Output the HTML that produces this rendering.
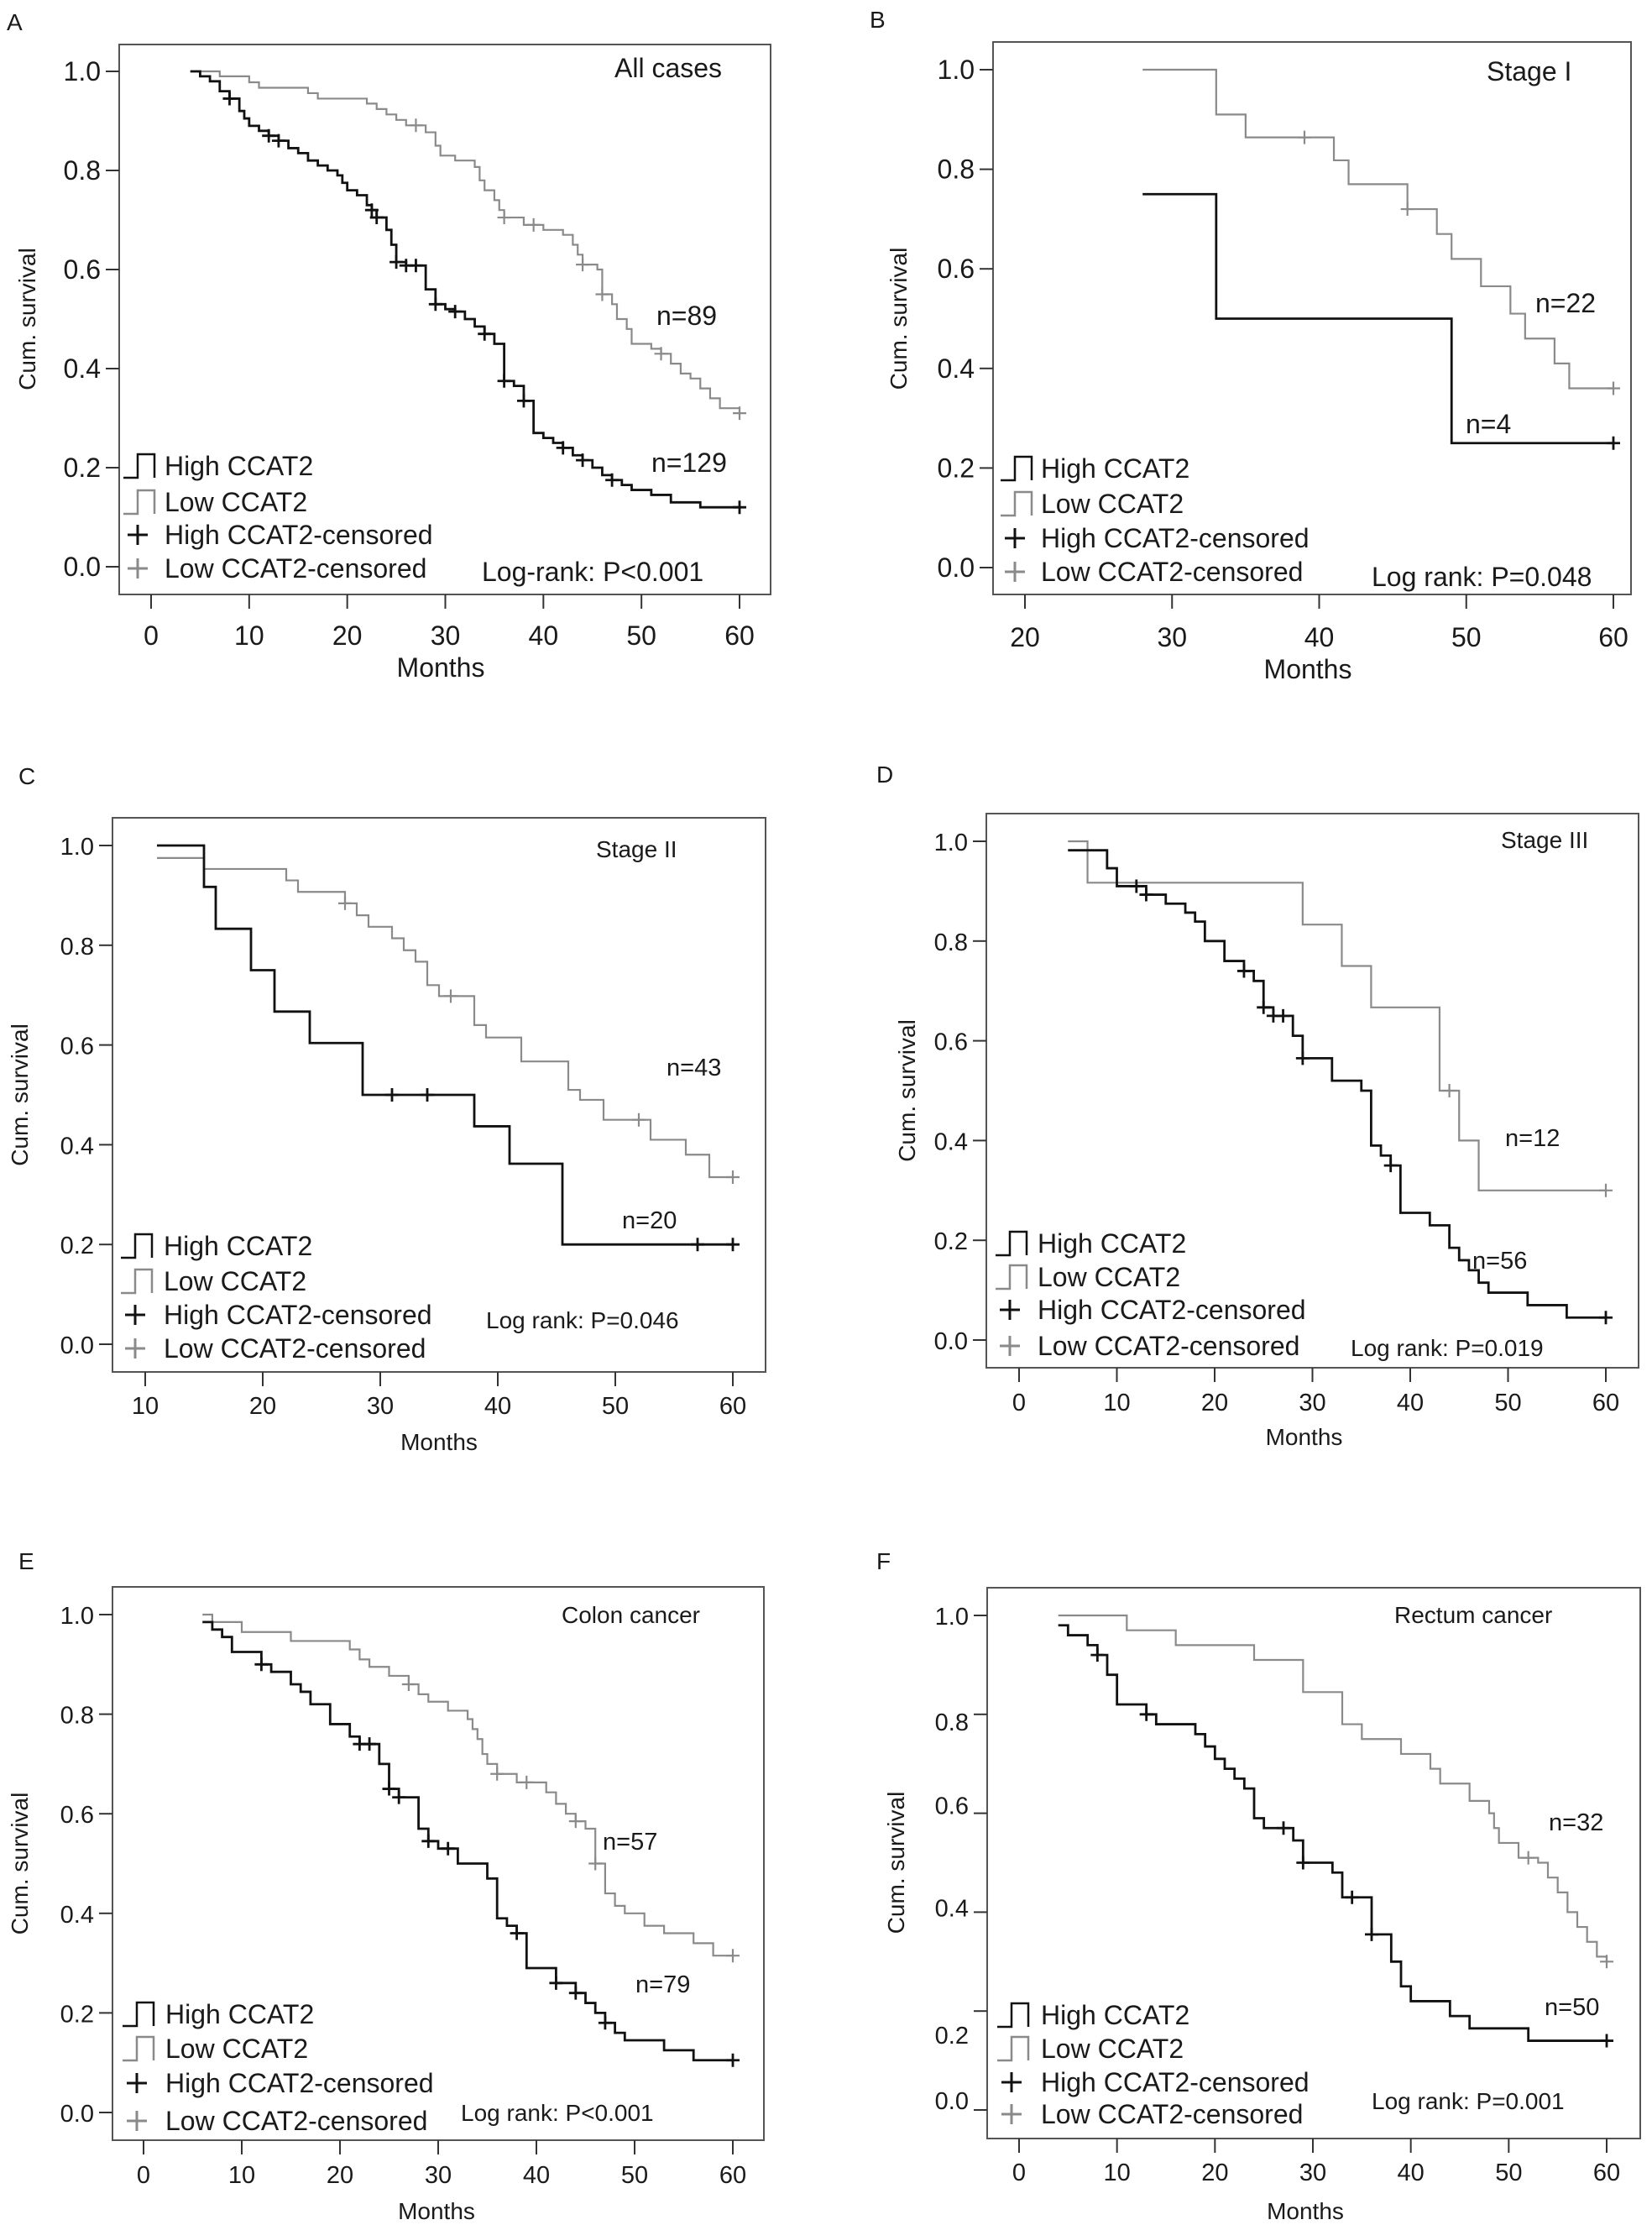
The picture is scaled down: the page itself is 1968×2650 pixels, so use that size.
<!DOCTYPE html>
<html><head><meta charset="utf-8">
<style>
html,body{margin:0;padding:0;background:#fff;}
svg{display:block;font-family:"Liberation Sans",Arial,sans-serif;}
</style></head>
<body>
<svg id="fig" xmlns="http://www.w3.org/2000/svg" width="1968" height="2650" viewBox="0 0 1968 2650"></svg>
<script>
// ---------- DATA ----------
const yTicks = [0, 0.2, 0.4, 0.6, 0.8, 1.0];
const yTickLabels = ["0.0","0.2","0.4","0.6","0.8","1.0"];
const xTicksFull = [0,10,20,30,40,50,60];
const xTicksB = [20,30,40,50,60];
const xTicksC = [10,20,30,40,50,60];

// Panel A: all cases
const aHighTime = [4,5,6,7,8,9,9.5,10,11,12,13,14,15,16,17,18,19,19.5,20,21,22,22.5,23,24,24.5,25,26,28,29,30,31,32,33,34,35,36,37,38,39,40,41,42,43,44,45,46,47,48,49,51,53,56,60];
const aHighSurv = [1,.99,.98,.96,.945,.92,.905,.89,.88,.87,.86,.845,.835,.82,.81,.8,.79,.775,.76,.75,.73,.72,.705,.68,.65,.615,.608,.56,.53,.52,.515,.5,.485,.47,.45,.375,.365,.335,.27,.26,.25,.24,.225,.215,.2,.185,.175,.165,.155,.145,.13,.12,.12];
const aHighCens = [8,12,13,22.5,23,25,26,27,29,31,34,36,38,42,44,47,60];
const aLowTime = [4,7,10,11,16,17,22,23,24,25,26,28,29,29.5,31,33,33.5,34,35,35.5,36,38,40,42,43,43.5,44,45.5,46,47,47.5,48.5,49,51,52,53,54,55,56,57,58,60];
const aLowSurv = [1,.99,.978,.967,.956,.945,.935,.924,.913,.902,.891,.877,.85,.83,.82,.807,.78,.76,.74,.72,.705,.69,.68,.67,.65,.63,.61,.6,.55,.53,.5,.48,.45,.44,.43,.41,.39,.38,.36,.34,.32,.31];
const aLowCens = [27,36,39,44,46,52,60];

// Panel B: stage I
const bHighTime = [28,33,49,60];
const bHighSurv = [.75,.5,.25,.25];
const bHighCens = [60];
const bLowTime = [28,33,35,41,42,46,48,49,51,53,54,56,57,60];
const bLowSurv = [1,.91,.864,.818,.77,.72,.67,.62,.565,.51,.46,.41,.36,.36];
const bLowCens = [39,46,60];

// Panel C: stage II
const cHighTime = [11,15,16,19,21,24,28.5,38,41,45.5,60];
const cHighSurv = [1,.917,.833,.75,.667,.604,.5,.437,.362,.2,.2];
const cHighCens = [31,34,57,60];
const cLowTime = [11,15,22,23,27,28,29,31,32,33,34,35,38,39,42,46,47,49,53,56,58,60];
const cLowSurv = [.975,.953,.93,.907,.884,.86,.837,.814,.79,.767,.72,.698,.64,.615,.567,.51,.49,.45,.41,.38,.335,.335];
const cLowCens = [27,36,52,60];

// Panel D: stage III
const dHighTime = [5,9,10,13,15,17,18,19,21,23,24,25,26,28,29,32,35,36,37,38,39,42,44,45,46,47,48,52,56,60];
const dHighSurv = [.982,.946,.91,.893,.875,.857,.839,.8,.76,.74,.72,.667,.65,.61,.565,.52,.5,.39,.37,.35,.255,.23,.185,.16,.14,.115,.095,.07,.045,.045];
const dHighCens = [12,13,23,25,26,27,29,38,60];
const dLowTime = [5,7,29,33,36,43,45,47,60];
const dLowSurv = [1,.917,.833,.75,.667,.5,.4,.3,.3];
const dLowCens = [44,60];

// Panel E: colon cancer
const eHighTime = [6,7,8,9,12,13,15,16,17,19,21,22,24,25,26,28,29,30,32,35,36,37,38,39,42,44,45,46,47,48,49,53,56,60];
const eHighSurv = [.985,.97,.955,.925,.9,.885,.86,.845,.82,.78,.755,.74,.7,.65,.633,.57,.545,.53,.5,.47,.39,.375,.36,.29,.26,.24,.22,.2,.18,.16,.145,.125,.105,.105];
const eHighCens = [12,22,23,25,26,29,31,38,42,44,47,60];
const eLowTime = [6,7,10,15,21,22,23,25,27,28,29,31,33,33.5,34,34.5,35,36,38,41,42,43,44,45,46,47,48,49,51,53,56,58,60];
const eLowSurv = [1,.985,.965,.947,.93,.91,.895,.877,.86,.84,.825,.807,.79,.77,.75,.72,.7,.68,.663,.643,.62,.6,.585,.57,.5,.44,.415,.4,.375,.36,.34,.315,.315];
const eLowCens = [27,36,39,44,46,60];

// Panel F: rectum cancer
const fHighTime = [4,5,7,8,9,10,13,14,18,19,20,21,22,23,24,25,28,29,32,33,36,38,39,40,44,46,52,60];
const fHighSurv = [.98,.96,.94,.92,.88,.82,.8,.78,.76,.735,.71,.69,.67,.65,.59,.57,.545,.5,.48,.43,.355,.3,.25,.22,.19,.165,.14,.14];
const fHighCens = [8,13,27,29,34,36,60];
const fLowTime = [4,11,16,24,29,33,35,39,42,43,46,48,48.5,49,51,53,54,55,56,57,58,59,60];
const fLowSurv = [1,.97,.94,.91,.845,.78,.75,.72,.69,.66,.625,.6,.57,.54,.51,.5,.47,.44,.4,.37,.34,.31,.3];
const fLowCens = [52,60];

// ---------- RENDER ----------
const NS = "http://www.w3.org/2000/svg";
const svg = document.getElementById("fig");
const GRAY = "#8a8a8a";
function mk(tag, attrs, parent) {
  const e = document.createElementNS(NS, tag);
  for (const k in attrs) e.setAttribute(k, attrs[k]);
  (parent || svg).appendChild(e);
  return e;
}
function txt(s, x, y, size, parent, anchor) {
  const t = mk("text", {x: x, y: y, "font-size": size, fill: "#1a1a1a", "text-anchor": anchor || "start"}, parent);
  t.textContent = s;
  return t;
}
function stepAt(times, surv, t) {
  let v = surv[0];
  for (let i = 0; i < times.length; i++) if (times[i] <= t) v = surv[i];
  return v;
}
function drawPanel(P) {
  const g = mk("g", {});
  
  
  const xS = v => P.xr[0] + (v - P.xd[0]) / (P.xd[1] - P.xd[0]) * (P.xr[1] - P.xr[0]);
  const yS = v => P.yr[1] + v * (P.yr[0] - P.yr[1]);
  const [bx0, by0, bx1, by1] = P.box;
  // panel letter
  const L = txt(P.id, P.letter[0], P.letter[1], 28, g);
  
  
  // box
  const box = mk("rect", {x: bx0, y: by0, width: bx1 - bx0, height: by1 - by0, fill: "none", stroke: "#555", "stroke-width": 2}, g);
  
  
  // y ticks
  yTicks.forEach((v, i) => {
    const y = yS(v);
    const tk = mk("line", {x1: bx0 - 16, x2: bx0, y1: y, y2: y, stroke: "#333", "stroke-width": 2}, g);
    
    
    const off = P.yLabOff ? P.yLabOff[i] : 0;
    const lb = txt(yTickLabels[i], bx0 - 22, y + 11 + off, P.tickSize, g, "end");
    
    
  });
  // x ticks
  P.xticks.forEach(v => {
    const x = xS(v);
    const tk = mk("line", {x1: x, x2: x, y1: by1, y2: by1 + 17, stroke: "#333", "stroke-width": 2}, g);
    
    
    const lb = txt(String(v), x, P.xLabY, P.tickSize, g, "middle");
    
    
  });
  const xt = txt("Months", (bx0 + bx1) / 2 + P.monthsDx, P.monthsY, P.labSize, g, "middle");
  
  
  const yt = txt("Cum. survival", 0, 0, 28, g, "middle");
  yt.setAttribute("transform", `translate(${P.yTitleX},${(yS(1) + yS(0)) / 2}) rotate(-90)`);
  
  
  // series
  const series = [
    {name: "low", t: P.lowT, s: P.lowS, c: P.lowC, col: GRAY, w: 2.2},
    {name: "high", t: P.highT, s: P.highS, c: P.highC, col: "#111", w: 2.8}
  ];
  series.forEach(S => {
    const n = Math.min(S.t.length, S.s.length);
    let d = `M${xS(S.t[0])},${yS(S.s[0])}`;
    for (let i = 1; i < n; i++) d += ` H${xS(S.t[i])} V${yS(S.s[i])}`;
    const p = mk("path", {d: d, fill: "none", stroke: S.col, "stroke-width": S.w}, g);
    
    
    S.c.forEach(ct => {
      const cx = xS(ct), cy = yS(stepAt(S.t.slice(0, n), S.s.slice(0, n), ct));
      const m = mk("path", {d: `M${cx - 8},${cy} H${cx + 8} M${cx},${cy - 8} V${cy + 8}`, stroke: S.col, "stroke-width": S.w}, g);
      
      
    });
  });
  // labels
  const tt = txt(P.title, P.titlePos[0], P.titlePos[1], P.labSize, g);
  
  
  const n1 = txt(P.nLow, P.nLowPos[0], P.nLowPos[1], P.nSize, g);
  
  
  const n2 = txt(P.nHigh, P.nHighPos[0], P.nHighPos[1], P.nSize, g);
  
  
  const lr = txt(P.logrank, P.lrPos[0], P.lrPos[1], P.labSize, g);
  
  
  // legend
  const lg = mk("g", {}, g);
  
  
  const names = ["High CCAT2", "Low CCAT2", "High CCAT2-censored", "Low CCAT2-censored"];
  const cols = ["#111", GRAY, "#111", GRAY];
  P.legRows.forEach((cy, i) => {
    const x0 = P.legSym;
    let m;
    if (i < 2) {
      m = mk("path", {d: `M${x0},${cy + 14} H${x0 + 17} V${cy - 14} H${x0 + 37} V${cy + 14}`, fill: "none", stroke: cols[i], "stroke-width": 2.5}, lg);
    } else {
      m = mk("path", {d: `M${x0 + 5},${cy} H${x0 + 29} M${x0 + 17},${cy - 12} V${cy + 12}`, stroke: cols[i], "stroke-width": 3}, lg);
    }
    
    
    const t = txt(names[i], P.legText, cy + 11, 32, lg);
    
    
  });
}

drawPanel({id: "A", letter: [8, 36], box: [142, 53, 918, 708], xd: [0, 60], xr: [180, 881], yr: [85, 675], xticks: xTicksFull,
  xLabY: 768, monthsY: 806, monthsDx: -5, yTitleX: 42, tickSize: 32, labSize: 32, nSize: 32,
  highT: aHighTime, highS: aHighSurv, highC: aHighCens, lowT: aLowTime, lowS: aLowSurv, lowC: aLowCens,
  title: "All cases", titlePos: [732, 92], nLow: "n=89", nLowPos: [782, 387], nHigh: "n=129", nHighPos: [776, 562],
  logrank: "Log-rank: P<0.001", lrPos: [574, 692], legSym: 147, legText: 196, legRows: [555, 598, 637, 677]});

drawPanel({id: "B", letter: [1036, 33], box: [1183, 50, 1943, 708], xd: [20, 60], xr: [1221, 1922], yr: [83, 676], xticks: xTicksB,
  xLabY: 770, monthsY: 808, monthsDx: -5, yTitleX: 1080, tickSize: 32, labSize: 32, nSize: 32,
  highT: bHighTime, highS: bHighSurv, highC: bHighCens, lowT: bLowTime, lowS: bLowSurv, lowC: bLowCens,
  title: "Stage I", titlePos: [1771, 96], nLow: "n=22", nLowPos: [1829, 372], nHigh: "n=4", nHighPos: [1746, 516],
  logrank: "Log rank: P=0.048", lrPos: [1634, 698], legSym: 1192, legText: 1240, legRows: [558, 600, 641, 681]});

drawPanel({id: "C", letter: [22, 934], box: [134, 974, 912, 1634], xd: [10, 60], xr: [173, 873], yr: [1007, 1601], xticks: xTicksC,
  xLabY: 1684, monthsY: 1727, monthsDx: 0, yTitleX: 33, tickSize: 29, labSize: 28, nSize: 29,
  highT: cHighTime, highS: cHighSurv, highC: cHighCens, lowT: cLowTime, lowS: cLowSurv, lowC: cLowCens,
  title: "Stage II", titlePos: [710, 1021], nLow: "n=43", nLowPos: [794, 1281], nHigh: "n=20", nHighPos: [741, 1463],
  logrank: "Log rank: P=0.046", lrPos: [579, 1582], legSym: 144, legText: 195, legRows: [1484, 1526, 1566, 1606]});

drawPanel({id: "D", letter: [1044, 932], box: [1175, 969, 1952, 1629], xd: [0, 60], xr: [1214, 1913], yr: [1002, 1596], xticks: xTicksFull,
  xLabY: 1680, monthsY: 1721, monthsDx: -10, yTitleX: 1090, tickSize: 29, labSize: 28, nSize: 29,
  highT: dHighTime, highS: dHighSurv, highC: dHighCens, lowT: dLowTime, lowS: dLowSurv, lowC: dLowCens,
  title: "Stage III", titlePos: [1788, 1010], nLow: "n=12", nLowPos: [1793, 1365], nHigh: "n=56", nHighPos: [1754, 1511],
  logrank: "Log rank: P=0.019", lrPos: [1609, 1615], legSym: 1186, legText: 1236, legRows: [1481, 1521, 1560, 1603]});

drawPanel({id: "E", letter: [22, 1869], box: [134, 1890, 910, 2549], xd: [0, 60], xr: [171, 873], yr: [1923, 2516], xticks: xTicksFull,
  xLabY: 2600, monthsY: 2643, monthsDx: -2, yTitleX: 33, tickSize: 29, labSize: 28, nSize: 29,
  highT: eHighTime, highS: eHighSurv, highC: eHighCens, lowT: eLowTime, lowS: eLowSurv, lowC: eLowCens,
  title: "Colon cancer", titlePos: [669, 1933], nLow: "n=57", nLowPos: [718, 2203], nHigh: "n=79", nHighPos: [757, 2373],
  logrank: "Log rank:  P<0.001", lrPos: [549, 2526], legSym: 146, legText: 197, legRows: [2399, 2440, 2481, 2526]});

drawPanel({id: "F", letter: [1044, 1869], box: [1176, 1891, 1954, 2547], xd: [0, 60], xr: [1214, 1914], yr: [1924, 2513], xticks: xTicksFull,
  xLabY: 2597, monthsY: 2643, monthsDx: -10, yTitleX: 1077, tickSize: 29, labSize: 28, nSize: 29,
  yLabOff: [-12, 28, -6, -10, 8, 0],
  highT: fHighTime, highS: fHighSurv, highC: fHighCens, lowT: fLowTime, lowS: fLowSurv, lowC: fLowCens,
  title: "Rectum cancer", titlePos: [1661, 1933], nLow: "n=32", nLowPos: [1845, 2180], nHigh: "n=50", nHighPos: [1840, 2400],
  logrank: "Log rank: P=0.001", lrPos: [1634, 2512], legSym: 1188, legText: 1240, legRows: [2400, 2440, 2480, 2518]});
</script>
</body></html>
